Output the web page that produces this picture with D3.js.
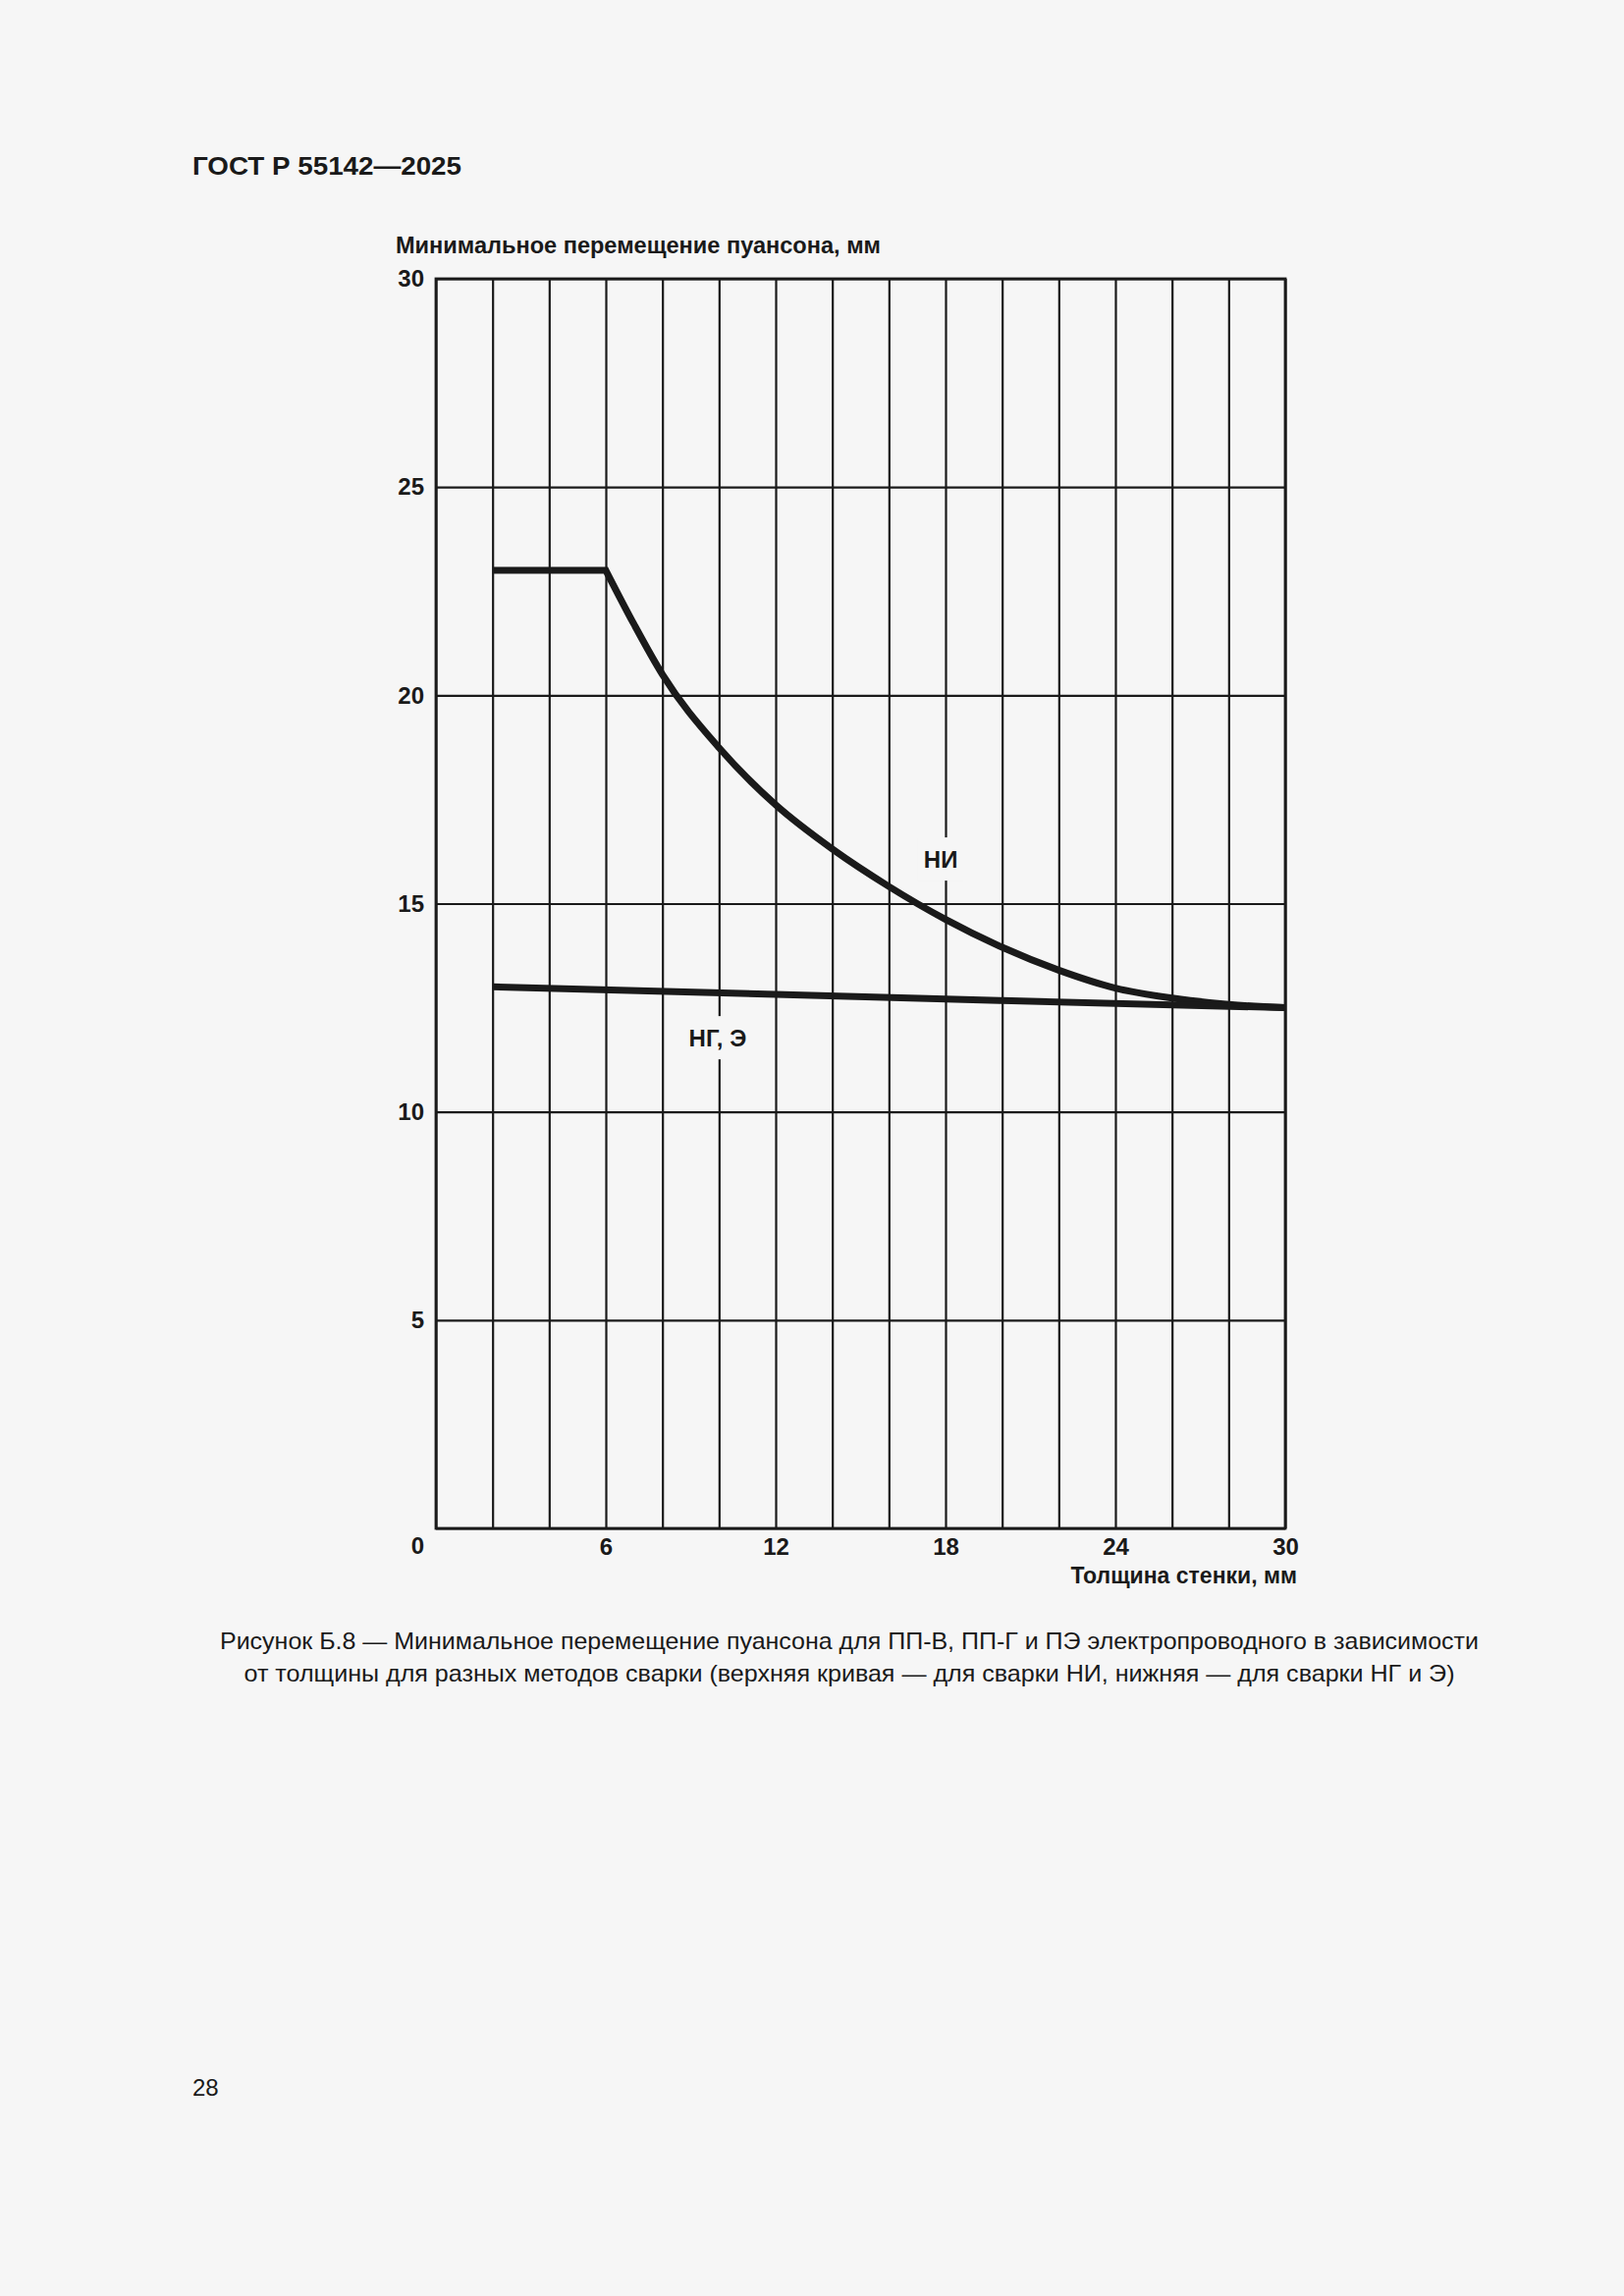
<!DOCTYPE html>
<html>
<head>
<meta charset="utf-8">
<script src="https://cdn.jsdelivr.net/npm/d3@7/dist/d3.min.js"></script>
<style>
  html, body { margin: 0; padding: 0; background: #f6f6f6; }
  svg { display: block; }
  text { font-family: "Liberation Sans", Arial, sans-serif; fill: #1a1a1a; }
</style>
</head>
<body>
<svg id="chart" width="1654" height="2339"></svg>
<script>
// ---- data ----
const xGrid = [0, 2, 4, 6, 8, 10, 12, 14, 16, 18, 20, 22, 24, 26, 28, 30];
const xTickLabels = [6, 12, 18, 24, 30];
const yTicks = [0, 5, 10, 15, 20, 25, 30];

// НИ (upper curve)
const niX = [2, 6, 7, 8, 10, 12, 14, 16, 18, 20, 22, 24, 26, 28, 30];
const niY = [23, 23, 21.7, 20.5, 18.74, 17.37, 16.31, 15.41, 14.62, 13.95, 13.40, 12.97, 12.73, 12.58, 12.5];
// НГ, Э (lower line)
const ngX = [2, 12, 20, 30];
const ngY = [13, 12.82, 12.67, 12.5];

const seriesLabels = [
  { text: "НИ", x: 17.83, y: 16.07 },
  { text: "НГ, Э", x: 9.95, y: 11.78 }
];

const headerText = "ГОСТ Р 55142—2025";
const yTitle = "Минимальное перемещение пуансона, мм";
const xTitle = "Толщина стенки, мм";
const captionLines = [
  "Рисунок Б.8 — Минимальное перемещение пуансона для ПП-В, ПП-Г и ПЭ электропроводного в зависимости",
  "от толщины для разных методов сварки (верхняя кривая — для сварки НИ, нижняя — для сварки НГ и Э)"
];
const pageNumber = "28";

// ---- layout ----
const svg = d3.select("#chart");
const bg = "#f6f6f6", ink = "#1a1a1a";
svg.append("rect").attr("width", 1654).attr("height", 2339).attr("fill", bg);

const L = 444, R = 1309, T = 284, B = 1557;
const x = d3.scaleLinear().domain([0, 30]).range([L, R]);
const y = d3.scaleLinear().domain([0, 30]).range([B, T]);

// header
svg.append("text").attr("x", 196).attr("y", 178)
  .attr("font-size", 26).attr("font-weight", "bold")
  .attr("textLength", 274).attr("lengthAdjust", "spacingAndGlyphs").text(headerText);

// grid via axes
const gx = svg.append("g").attr("transform", `translate(0,${B})`)
  .call(d3.axisBottom(x).tickValues(xGrid).tickSize(-(B - T)).tickPadding(10)
    .tickFormat(d => xTickLabels.includes(d) ? d : ""));
gx.select(".domain").remove();
gx.selectAll(".tick line").attr("stroke", ink).attr("stroke-width", 2.2);
gx.selectAll(".tick text").attr("font-size", 24).attr("font-weight", "bold")
  .attr("fill", ink).style("font-family", '"Liberation Sans", Arial, sans-serif');

const gy = svg.append("g").attr("transform", `translate(${L},0)`)
  .call(d3.axisLeft(y).tickValues(yTicks).tickSize(-(R - L)).tickPadding(12));
gy.select(".domain").remove();
gy.selectAll(".tick line").attr("stroke", ink).attr("stroke-width", 2.2);
gy.selectAll(".tick text").attr("font-size", 24).attr("font-weight", "bold")
  .attr("fill", ink).style("font-family", '"Liberation Sans", Arial, sans-serif');
gy.selectAll(".tick").filter(d => d === 0).select("text").attr("dy", "1.05em");

// frame
svg.append("rect").attr("x", L).attr("y", T).attr("width", R - L).attr("height", B - T)
  .attr("fill", "none").attr("stroke", ink).attr("stroke-width", 2.8);

// label boxes (break grid lines)
const labelG = svg.append("g");
seriesLabels.forEach(s => {
  const t = labelG.append("text").attr("x", x(s.x)).attr("y", y(s.y))
    .attr("text-anchor", "middle").attr("dy", "0.36em")
    .attr("font-size", 24).attr("font-weight", "bold").text(s.text);
  const bb = t.node().getBBox();
  labelG.insert("rect", "text").attr("x", bb.x - 6).attr("y", y(s.y) - 22)
    .attr("width", bb.width + 12).attr("height", 44).attr("fill", bg);
});

// curves
const niPts = niX.map((d, i) => [d, niY[i]]);
const ngPts = ngX.map((d, i) => [d, ngY[i]]);
const smooth = d3.line().x(d => x(d[0])).y(d => y(d[1])).curve(d3.curveMonotoneX);
const straight = d3.line().x(d => x(d[0])).y(d => y(d[1]));
const niPath = straight(niPts.slice(0, 2)) + smooth(niPts.slice(1)).replace(/^M/, "L");
svg.append("path").attr("d", niPath).attr("fill", "none").attr("stroke", ink)
  .attr("stroke-width", 7).attr("stroke-linejoin", "miter");
svg.append("path").attr("d", straight(ngPts)).attr("fill", "none").attr("stroke", ink)
  .attr("stroke-width", 7);

// axis titles
svg.append("text").attr("x", 403).attr("y", 258)
  .attr("font-size", 24).attr("font-weight", "bold")
  .attr("textLength", 494).attr("lengthAdjust", "spacingAndGlyphs").text(yTitle);
svg.append("text").attr("x", 1321).attr("y", 1613).attr("text-anchor", "end")
  .attr("font-size", 23).attr("font-weight", "bold").text(xTitle);

// caption
const capLen = [1282, 1233];
captionLines.forEach((line, i) => {
  svg.append("text").attr("x", 865).attr("y", 1680 + i * 33).attr("text-anchor", "middle")
    .attr("font-size", 24).attr("textLength", capLen[i]).attr("lengthAdjust", "spacingAndGlyphs")
    .text(line);
});

// page number
svg.append("text").attr("x", 196).attr("y", 2135).attr("font-size", 24).text(pageNumber);
</script>
</body>
</html>
